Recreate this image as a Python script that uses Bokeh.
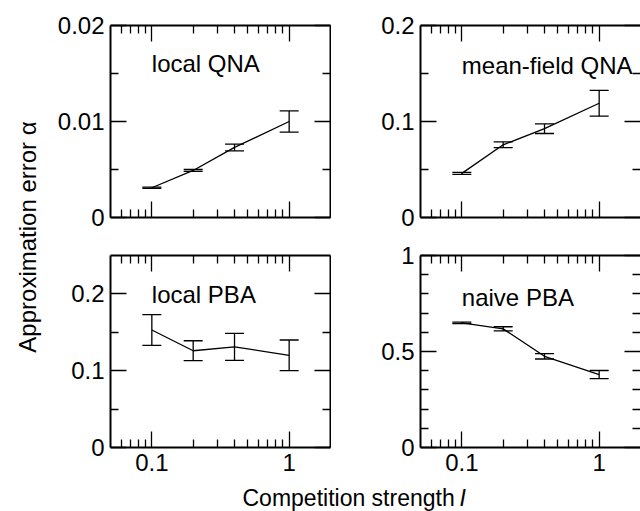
import math
from bokeh.plotting import figure
from bokeh.layouts import row, column
from bokeh.models import (Range1d, LinearAxis, LogAxis, FixedTicker, Whisker, TeeHead,
                          ColumnDataSource, Label, PrintfTickFormatter, CustomJSTickFormatter)
from bokeh.embed import file_html
from bokeh.resources import INLINE
from bokeh.core.properties import value

# ---------------- data ----------------
competition = [0.1, 0.2, 0.4, 1.0]

local_qna = [0.0031, 0.0049, 0.0073, 0.0100]
local_qna_err = [0.00006, 0.0001, 0.00035, 0.0011]

meanfield_qna = [0.046, 0.0757, 0.0925, 0.119]
meanfield_qna_err = [0.001, 0.003, 0.005, 0.0135]

local_pba = [0.153, 0.126, 0.131, 0.120]
local_pba_err = [0.020, 0.013, 0.0175, 0.020]

naive_pba = [0.649, 0.618, 0.475, 0.380]
naive_pba_err = [0.004, 0.011, 0.014, 0.021]

panel_names = ["local QNA", "mean-field QNA", "local PBA", "naive PBA"]
x_major = [0.1, 1.0]
x_minor = [0.06, 0.07, 0.08, 0.09, 0.2, 0.3, 0.4, 0.5, 0.6, 0.7, 0.8, 0.9]

FONT = "Liberation Sans"
FS = "24px"


def style_axis(ax, ticker, show_labels, show_line=True):
    ax.ticker = ticker
    ax.major_tick_in = 16
    ax.major_tick_out = 0
    ax.minor_tick_in = 8
    ax.minor_tick_out = 0
    ax.major_tick_line_width = 1.3
    ax.minor_tick_line_width = 1.3
    ax.major_tick_line_color = "black"
    ax.minor_tick_line_color = "black"
    ax.axis_line_width = 2
    ax.axis_line_color = "black" if show_line else None
    if show_labels:
        ax.formatter = PrintfTickFormatter(format="%g")
        ax.major_label_text_font = FONT
        ax.major_label_text_font_size = FS
        ax.major_label_text_color = "black"
        ax.major_label_standoff = 6
    else:
        ax.formatter = CustomJSTickFormatter(code="return '';")
        ax.major_label_text_font_size = "1px"
        ax.major_label_text_color = None
        ax.major_label_standoff = 0


def make_panel(vals, errs, ymax, ymajor, yminor, name, label_y,
               width, height, b_left, b_right, b_top, b_bottom,
               show_xlabels, right_line=True):
    p = figure(width=width, height=height, x_axis_type="log",
               x_range=Range1d(0.05, 2.0), y_range=Range1d(0, ymax),
               output_backend="svg", toolbar_location=None, title_location=None,
               min_border_left=b_left, min_border_right=b_right,
               min_border_top=b_top, min_border_bottom=b_bottom)
    p.xgrid.visible = False
    p.ygrid.visible = False
    p.outline_line_color = None
    p.background_fill_color = "white"

    xt = FixedTicker(ticks=x_major, minor_ticks=x_minor)
    yt = FixedTicker(ticks=ymajor, minor_ticks=yminor)

    style_axis(p.xaxis[0], xt, show_xlabels)
    style_axis(p.yaxis[0], yt, True)

    top = LogAxis()
    style_axis(top, FixedTicker(ticks=x_major, minor_ticks=x_minor), False)
    p.add_layout(top, "above")
    right = LinearAxis()
    style_axis(right, FixedTicker(ticks=ymajor, minor_ticks=yminor), False, show_line=right_line)
    p.add_layout(right, "right")

    src = ColumnDataSource(dict(
        x=competition, y=vals,
        upper=[v + e for v, e in zip(vals, errs)],
        lower=[v - e for v, e in zip(vals, errs)],
    ))
    p.line("x", "y", source=src, line_color="black", line_width=1.3)
    w = Whisker(base="x", upper="upper", lower="lower", source=src,
                dimension="height", line_color="black", line_width=1.3,
                upper_head=TeeHead(size=19, line_color="black", line_width=1.3),
                lower_head=TeeHead(size=19, line_color="black", line_width=1.3))
    p.add_layout(w)

    p.add_layout(Label(x=0.1, y=label_y, text=name, text_font=FONT,
                       text_font_size=FS, text_color="black",
                       text_align="left", text_baseline="middle"))
    return p


TOP_H, BOT_H = 236, 246
LW, RW = 281, 309

p1 = make_panel(local_qna, local_qna_err, 0.02, [0, 0.01, 0.02], [0.005, 0.015],
                panel_names[0], 0.0160, LW, TOP_H, 60, 1, 25, 19, False)
p2 = make_panel(meanfield_qna, meanfield_qna_err, 0.2, [0, 0.1, 0.2], [0.05, 0.15],
                panel_names[1], 0.1586, RW, TOP_H, 89, 0, 25, 19, False, right_line=False)
p3 = make_panel(local_pba, local_pba_err, 0.25, [0, 0.1, 0.2], [0.05, 0.15],
                panel_names[2], 0.199, LW, BOT_H, 60, 1, 19, 35, True)
p4 = make_panel(naive_pba, naive_pba_err, 1.0, [0, 0.5, 1.0],
                [0.1, 0.2, 0.3, 0.4, 0.6, 0.7, 0.8, 0.9],
                panel_names[3], 0.782, RW, BOT_H, 89, 0, 19, 35, True, right_line=False)

# y title
GH = TOP_H + BOT_H
yt_fig = figure(width=50, height=GH, x_range=Range1d(0, 50), y_range=Range1d(0, GH),
                output_backend="svg", toolbar_location=None, min_border=0,
                title_location=None, x_axis_location=None, y_axis_location=None)
yt_fig.grid.visible = False
yt_fig.outline_line_color = None
yt_fig.text(x=[27], y=[GH - 236.5], text=["Approximation error α"], angle=math.pi / 2,
            text_align="center", text_baseline="middle",
            text_font=value(FONT), text_font_size=value(FS), text_color="black")

# x title
XH = 511 - GH
xt_fig = figure(width=640, height=XH, x_range=Range1d(0, 640), y_range=Range1d(0, XH),
                output_backend="svg", toolbar_location=None, min_border=0,
                title_location=None, x_axis_location=None, y_axis_location=None)
xt_fig.grid.visible = False
xt_fig.outline_line_color = None
xt_fig.text(x=[242], y=[511 - 497.5], text=["Competition strength"], text_align="left",
            text_baseline="middle", text_font=value(FONT), text_font_size=value("23px"),
            text_color="black")
xt_fig.text(x=[459], y=[511 - 497.5], text=["I"], text_align="left",
            text_baseline="middle", text_font=value(FONT), text_font_size=value("23px"),
            text_font_style="italic", text_color="black")

layout = column(row(yt_fig, column(row(p1, p2), row(p3, p4))), xt_fig)

open("out.html", "w").write(file_html(layout, INLINE))
